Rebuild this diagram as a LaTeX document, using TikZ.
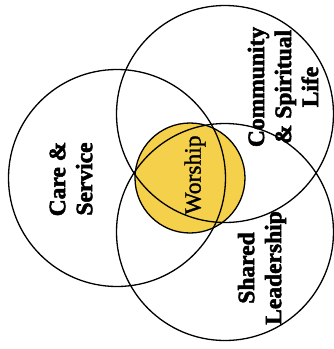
\documentclass[tikz,border=0pt]{standalone}
\usepackage{fontspec}
\setmainfont{Liberation Serif}
\newfontfamily\heavyfont{Liberation Serif Bold}[FakeBold=2.2]
\newfontfamily\midfont{Liberation Serif}[FakeBold=1.2]
\definecolor{wyellow}{RGB}{245,208,75}
\begin{document}
\begin{tikzpicture}[x=1pt,y=-1pt,
  ring/.style={circle,draw=black,line width=1.3pt,minimum size=217pt,inner sep=0pt},
  lbl/.style={rotate=90,align=center,font=\fontsize{23.5}{27}\heavyfont},
  wlbl/.style={rotate=90,align=center,font=\fontsize{23.5}{27}\midfont}]
\useasboundingbox (0,0) rectangle (333,349);
\node[circle,fill=wyellow,draw=black,line width=1.3pt,minimum size=110pt,inner sep=0pt] (worship) at (190,178) {};
\node[ring] (care) at (117,178) {};
\node[ring] (comm) at (225,114) {};
\node[ring] (shared) at (225,232) {};
\node[lbl] (careT) at (71,179) {Care \&\\Service};
\node[wlbl] (worT) at (195,175) {Worship};
\node[lbl] (commT) at (283,87) {Community\\\& Spiritual\\Life};
\node[lbl] (sharedT) at (262,268) {Shared\\Leadership};
\end{tikzpicture}
\end{document}
